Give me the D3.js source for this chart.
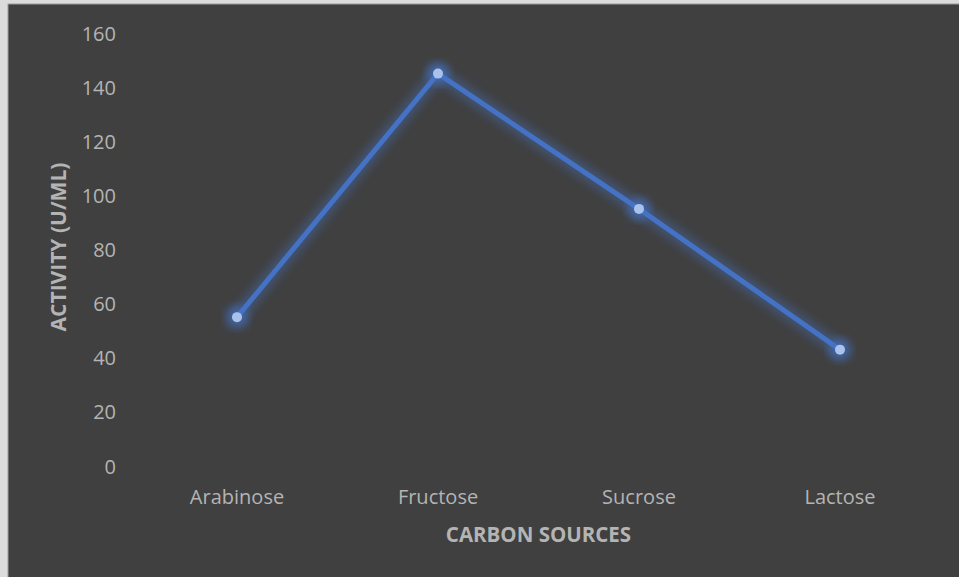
<!DOCTYPE html>
<html>
<head>
<meta charset="utf-8">
<script src="https://cdn.jsdelivr.net/npm/d3@7"></script>
<style>
  html, body { margin: 0; padding: 0; background: #dcdcdc; }
  svg { display: block; }
</style>
</head>
<body>
<svg id="chart" width="959" height="577"></svg>
<script>
// Enzyme activity by carbon source
const categories = ["Arabinose", "Fructose", "Sucrose", "Lactose"];
const activity = [55, 145, 95, 43];
const yTicks = [0, 20, 40, 60, 80, 100, 120, 140, 160];
const xTitle = "CARBON SOURCES";
const yTitle = "ACTIVITY (U/ML)";

const W = 959, H = 577;
const plot = { left: 136.5, right: 940.5, top: 33, bottom: 466 };
const font = "'Open Sans', 'Noto Sans', sans-serif";
const textColor = "#b4b4b4";
const lineColor = "#4472c4";

const svg = d3.select("#chart");

// Chart frame
svg.append("rect")
  .attr("x", 8).attr("y", 4)
  .attr("width", W).attr("height", H)
  .attr("fill", "#404040")
  .attr("stroke", "#9a9a9a").attr("stroke-width", 1);

const defs = svg.append("defs");
const glow = defs.append("filter").attr("id", "glow")
  .attr("x", "-20%").attr("y", "-20%").attr("width", "140%").attr("height", "140%");
glow.append("feGaussianBlur").attr("stdDeviation", 5);

const x = d3.scaleBand().domain(categories).range([plot.left, plot.right]);
const y = d3.scaleLinear().domain([0, 160]).range([plot.bottom, plot.top]);

// Y axis labels (no axis line, no gridlines)
const yAxis = d3.axisLeft(y).tickValues(yTicks).tickSize(0).tickPadding(0);
const gy = svg.append("g").attr("transform", "translate(116,0)").call(yAxis);
gy.select(".domain").remove();
gy.selectAll("text")
  .attr("fill", textColor)
  .attr("font-family", font)
  .attr("font-size", 20)
  .attr("dy", "0.35em");

// X axis labels
const xAxis = d3.axisBottom(x).tickSize(0).tickPadding(0);
const gx = svg.append("g").attr("transform", "translate(0,497)").call(xAxis);
gx.select(".domain").remove();
gx.selectAll("text")
  .attr("fill", textColor)
  .attr("font-family", font)
  .attr("font-size", 20)
  .attr("dy", "0.35em");

// Axis titles
svg.append("text")
  .attr("x", (plot.left + plot.right) / 2).attr("y", 537)
  .attr("text-anchor", "middle").attr("dominant-baseline", "middle")
  .attr("fill", textColor).attr("font-family", font)
  .attr("font-size", 20.5).attr("font-weight", "bold")
  .text(xTitle);

svg.append("text")
  .attr("transform", "translate(60,247) rotate(-90)")
  .attr("text-anchor", "middle").attr("dominant-baseline", "middle")
  .attr("fill", textColor).attr("font-family", font)
  .attr("font-size", 21).attr("font-weight", "bold")
  .text(yTitle);

const data = categories.map((c, i) => ({ c, v: activity[i] }));
const cx = d => x(d.c) + x.bandwidth() / 2;
const line = d3.line().x(cx).y(d => y(d.v));

// Soft glow under the series
svg.append("path").datum(data)
  .attr("d", line).attr("fill", "none")
  .attr("stroke", lineColor).attr("stroke-width", 14)
  .attr("stroke-opacity", 0.4).attr("stroke-linejoin", "round")
  .attr("filter", "url(#glow)");
svg.selectAll(".glowdot").data(data).join("circle")
  .attr("cx", cx).attr("cy", d => y(d.v)).attr("r", 11)
  .attr("fill", lineColor).attr("opacity", 0.7)
  .attr("filter", "url(#glow)");

// Series line
svg.append("path").datum(data)
  .attr("d", line).attr("fill", "none")
  .attr("stroke", lineColor).attr("stroke-width", 5)
  .attr("stroke-linejoin", "round");

// Markers
svg.selectAll(".dot").data(data).join("circle")
  .attr("cx", cx).attr("cy", d => y(d.v)).attr("r", 5)
  .attr("fill", "#a9c2ec");
</script>
</body>
</html>
